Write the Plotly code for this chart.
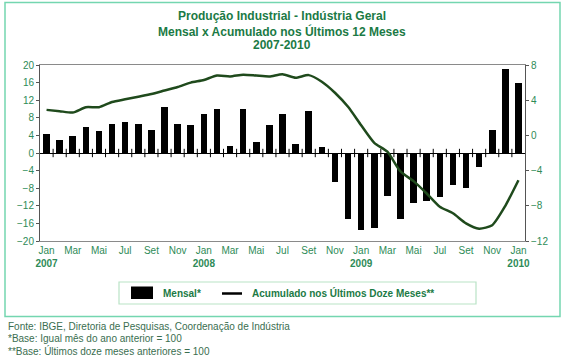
import plotly.graph_objects as go

# ---------------- data ----------------
month_abbr = ["Jan", "Fev", "Mar", "Abr", "Mai", "Jun", "Jul", "Ago", "Set", "Out", "Nov", "Dez"]
years = [2007, 2008, 2009, 2010]
periods = [f"{m} {y}" for y in years for m in month_abbr][:37]  # Jan 2007 .. Jan 2010

mensal = [4.4, 3.0, 3.8, 5.9, 5.0, 6.7, 7.0, 6.7, 5.3, 10.4, 6.7, 6.4,
          8.8, 9.9, 1.6, 10.1, 2.4, 6.4, 8.8, 2.1, 9.6, 1.3, -6.7, -15.0,
          -17.6, -17.0, -9.8, -15.0, -11.3, -11.0, -10.1, -7.3, -7.9, -3.2, 5.3, 19.1,
          15.9]

acumulado = [2.9, 2.75, 2.6, 3.2, 3.2, 3.8, 4.1, 4.4, 4.7, 5.1, 5.5, 6.0,
             6.3, 6.8, 6.7, 6.9, 6.8, 6.7, 6.95, 6.55, 6.85, 6.1, 4.85, 3.25,
             1.15, -0.85, -1.85, -4.1, -5.2, -6.6, -8.1, -8.85, -10.0, -10.6, -10.2, -8.0,
             -5.1]

left_ticks = [-20, -16, -12, -8, -4, 0, 4, 8, 12, 16, 20]
right_ticks = [-12, -8, -4, 0, 4, 8]

title_lines = ["Produção Industrial - Indústria Geral",
               "Mensal x Acumulado nos Últimos 12 Meses",
               "2007-2010"]
footnotes = ["Fonte: IBGE, Diretoria de Pesquisas, Coordenação de Indústria",
             "*Base: Igual mês do ano anterior = 100",
             "**Base: Últimos doze meses anteriores = 100"]
legend_names = ["Mensal*", "Acumulado nos Últimos Doze Meses**"]

# ---------------- layout helpers ----------------
W, H = 566, 362
ML, MR, MT, MB = 40, 41, 65, 121
PW, PH = W - ML - MR, H - MT - MB


def px(xp):
    return (xp - ML) / PW


def py(yp):
    return (H - MB - yp) / PH


idx = list(range(len(periods)))
tickvals = idx[::2]
ticktext = []
for i in tickvals:
    m, y = periods[i].split()
    ticktext.append(f"{m}<br><b>{y}</b>" if m == "Jan" else m)

GREEN_T = "#1b7a45"
GREEN_L = "#2e8b57"
LINE_C = "#1f4a1c"
FONT = "Arial"

fig = go.Figure()
fig.add_trace(go.Bar(x=idx, y=mensal, width=0.5, marker=dict(color="black", line=dict(width=0)),
                     name=legend_names[0], yaxis="y", hovertext=periods))
fig.add_trace(go.Scatter(x=idx, y=acumulado, mode="lines", yaxis="y2", name=legend_names[1],
                         line=dict(color=LINE_C, width=2.5, shape="spline", smoothing=0.6),
                         hovertext=periods))
# category-boundary tick marks on the zero line
bounds = [i + 0.5 for i in idx[:-1]]
fig.add_trace(go.Scatter(x=bounds, y=[0] * len(bounds), mode="markers", yaxis="y",
                         marker=dict(symbol="line-ns", size=6, line=dict(color="black", width=1)),
                         hoverinfo="skip"))

shapes = []
# outer frame
shapes.append(dict(type="rect", xref="paper", yref="paper", x0=px(5), x1=px(560), y0=py(316.5), y1=py(2.5),
                   line=dict(color="#74d6b0", width=1.5), layer="below"))
# legend box
shapes.append(dict(type="rect", xref="paper", yref="paper", x0=px(119), x1=px(476), y0=py(304), y1=py(282),
                   line=dict(color="#b9e3c6", width=1.2)))
# legend symbols
shapes.append(dict(type="rect", xref="paper", yref="paper", x0=px(131), x1=px(153), y0=py(299), y1=py(286.5),
                   fillcolor="black", line=dict(width=0)))
shapes.append(dict(type="line", xref="paper", yref="paper", x0=px(222), x1=px(242), y0=py(293.5), y1=py(293.5),
                   line=dict(color="black", width=2.5)))

annotations = []
for t, yy in zip(title_lines, [16.5, 31, 45.5]):
    annotations.append(dict(text=f"<b>{t}</b>", xref="paper", yref="paper", x=px(282), y=py(yy),
                            xanchor="center", yanchor="middle", showarrow=False,
                            font=dict(size=12, color=GREEN_T, family=FONT)))
annotations.append(dict(text=f"<b>{legend_names[0]}</b>", xref="paper", yref="paper", x=px(161), y=py(293),
                        xanchor="left", yanchor="middle", showarrow=False,
                        font=dict(size=10, color=GREEN_T, family=FONT)))
annotations.append(dict(text=f"<b>{legend_names[1]}</b>", xref="paper", yref="paper", x=px(250), y=py(293),
                        xanchor="left", yanchor="middle", showarrow=False,
                        font=dict(size=10, color=GREEN_T, family=FONT)))
for t, yy in zip(footnotes, [326, 338, 350.5]):
    annotations.append(dict(text=t, xref="paper", yref="paper", x=px(6), y=py(yy),
                            xanchor="left", yanchor="middle", showarrow=False,
                            font=dict(size=10, color="#3a6e50", family=FONT)))

fig.update_layout(
    width=W, height=H,
    margin=dict(l=ML, r=MR, t=MT, b=MB),
    paper_bgcolor="white", plot_bgcolor="white",
    showlegend=False,
    bargap=0,
    hovermode=False,
    font=dict(family=FONT, color=GREEN_L, size=10),
    xaxis=dict(range=[-0.5, len(idx) - 0.5], tickvals=tickvals, ticktext=ticktext,
               showline=True, linecolor="#8a8a8a", linewidth=1, mirror=True, ticks="",
               showgrid=False, zeroline=False, tickfont=dict(size=10, color=GREEN_L)),
    yaxis=dict(range=[-20, 20], tickvals=left_ticks, showline=True, linecolor="#555", linewidth=1,
               ticks="outside", ticklen=3, tickcolor="#555", showgrid=False,
               zeroline=True, zerolinecolor="black", zerolinewidth=1,
               tickfont=dict(size=10, color=GREEN_L)),
    yaxis2=dict(range=[-12, 8], tickvals=right_ticks, overlaying="y", side="right",
                showline=True, linecolor="#555", linewidth=1, ticks="outside", ticklen=3,
                tickcolor="#555", showgrid=False, zeroline=False,
                tickfont=dict(size=10, color=GREEN_L)),
    shapes=shapes,
    annotations=annotations,
)

fig.write_html("out.html", config={"displayModeBar": False, "staticPlot": True},
               post_script="document.body.style.margin='0px';")
